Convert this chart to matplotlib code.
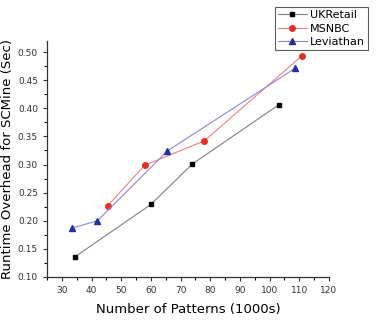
import numpy as np
import matplotlib.pyplot as plt

# data
uk_x = [34.5, 60, 74, 103]
uk_y = [0.136, 0.229, 0.301, 0.406]
ms_x = [45.5, 58, 78, 111]
ms_y = [0.227, 0.299, 0.342, 0.494]
lv_x = [33.5, 42, 65.5, 108.5]
lv_y = [0.187, 0.200, 0.324, 0.471]

fig = plt.figure(figsize=(3.79, 3.22), dpi=100)
ax = fig.add_axes([0.124, 0.140, 0.744, 0.733])

l1, = ax.plot(uk_x, uk_y, color='#808080', lw=0.8, marker='s', ms=3.5,
              mfc='black', mec='black', label='UKRetail')
l2, = ax.plot(ms_x, ms_y, color='#f08080', lw=0.8, marker='o', ms=4,
              mfc='#e03020', mec='#e03020', label='MSNBC')
l3, = ax.plot(lv_x, lv_y, color='#8888dd', lw=0.8, marker='^', ms=4.5,
              mfc='#2030a0', mec='#2030a0', label='Leviathan')

ax.set_xlim(25, 120)
ax.set_ylim(0.10, 0.52)
ax.set_xticks(np.arange(30, 121, 10))
ax.set_xticks(np.arange(25, 121, 5), minor=True)
ax.set_yticks(np.arange(0.10, 0.501, 0.05))
ax.set_yticks(np.arange(0.10, 0.521, 0.025), minor=True)
ax.yaxis.set_major_formatter(plt.FormatStrFormatter('%.2f'))
ax.tick_params(labelsize=6.5, length=3, width=0.8, colors='#333333')
ax.tick_params(which='minor', length=2, width=0.8)
for s in ['top', 'right']:
    ax.spines[s].set_visible(False)
for s in ['left', 'bottom']:
    ax.spines[s].set_linewidth(0.9)
    ax.spines[s].set_color('#333333')

ax.set_xlabel('Number of Patterns (1000s)', fontsize=9.5, labelpad=6)
ax.set_ylabel('Runtime Overhead for SCMine (Sec)', fontsize=9.5, labelpad=3)

leg = fig.legend(handles=[l1, l2, l3], loc='upper right',
                 bbox_to_anchor=(0.978, 0.985), fontsize=8, frameon=True,
                 fancybox=False, edgecolor='#333333', handlelength=2.6,
                 borderpad=0.3, labelspacing=0.3, handletextpad=0.3,
                 borderaxespad=0.2)
leg.get_frame().set_linewidth(0.8)

fig.savefig('out.png', dpi=100)
